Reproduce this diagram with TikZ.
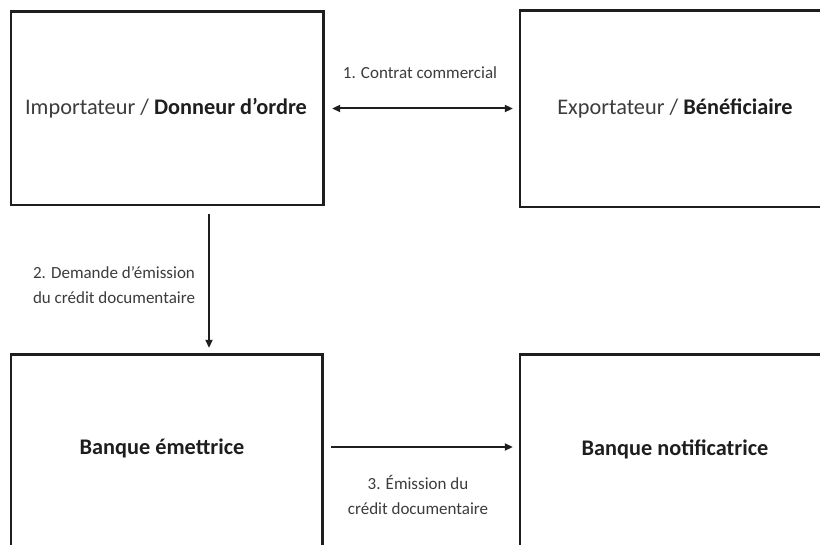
\documentclass[tikz,border=0pt]{standalone}
\usepackage{fontspec}
\setmainfont{Carlito}
\usetikzlibrary{arrows.meta}
\definecolor{ink}{HTML}{1E1E1E}
\definecolor{softink}{HTML}{3C3C3C}
\tikzset{
  party/.style={inner sep=0pt},
  frame/.style={draw=ink, line width=2.6pt, line join=miter},
  partytext/.style={font=\fontsize{22.3}{26}\selectfont, text=softink, inner sep=0pt},
  flow/.style={draw=ink, line width=2pt, -{Triangle[length=8pt,width=7pt]}},
  flowboth/.style={draw=ink, line width=2pt, {Triangle[length=8pt,width=7pt]}-{Triangle[length=8pt,width=7pt]}},
  steplabel/.style={font=\fontsize{17}{24.5}\selectfont, text=softink, align=center, inner sep=0pt}
}
\begin{document}
\begin{tikzpicture}[x=1pt,y=1pt]
  \useasboundingbox (0,0) rectangle (820,-545);
  \fill[white] (0,0) rectangle (820,-545);

  % the four parties (the right and lower frames run past the page edge)
  \node[party, minimum width=312pt, minimum height=193pt] (imp) at (167,-108.5) {};
  \node[party, minimum width=330pt, minimum height=196pt] (exp) at (685,-109) {};
  \node[party, minimum width=311pt, minimum height=215pt] (bem) at (166.5,-462.5) {};
  \node[party, minimum width=330pt, minimum height=215pt] (bno) at (685,-462.5) {};

  \draw[frame] (imp.south west) rectangle (imp.north east);
  \draw[frame] (exp.north west -| 822,0) -- (exp.north west) -- (exp.south west) -- (exp.south west -| 822,0);
  \draw[frame] (bem.north west |- 0,-547) -- (bem.north west) -- (bem.north east) -- (bem.north east |- 0,-547);
  \draw[frame] (bno.north west -| 822,0) -- (bno.north west) -- (bno.north west |- 0,-547);

  \node[partytext] (impT) at (166,-108) {Importateur / \textbf{\color{ink}Donneur d’ordre}};
  \node[partytext] (expT) at (675,-108) {Exportateur / \textbf{\color{ink}Bénéficiaire}};
  \node[partytext] (bemT) at (162,-448) {\textbf{\color{ink}Banque émettrice}};
  \node[partytext] (bnoT) at (675,-449) {\textbf{\color{ink}Banque notificatrice}};

  % 1. commercial contract
  \draw[flowboth, shorten <=9pt, shorten >=7pt] (imp.east) -- (imp.east -| exp.west);
  \node[steplabel] (l1) at (420,-73) {1. Contrat commercial};

  % 2. request to the issuing bank
  \coordinate (d2) at ([xshift=42pt]imp.south);
  \draw[flow, shorten <=9pt, shorten >=7pt] (d2) -- (d2 |- bem.north);
  \node[steplabel] (l2) at (114,-285) {2. Demande d’émission\\du crédit documentaire};

  % 3. issuing of the credit
  \coordinate (d3) at (bem.east |- 0,-447);
  \draw[flow, shorten <=9pt, shorten >=7pt] (d3) -- (d3 -| bno.west);
  \node[steplabel] (l3) at (418,-495) {3. Émission du\\crédit documentaire};
\end{tikzpicture}
\end{document}
